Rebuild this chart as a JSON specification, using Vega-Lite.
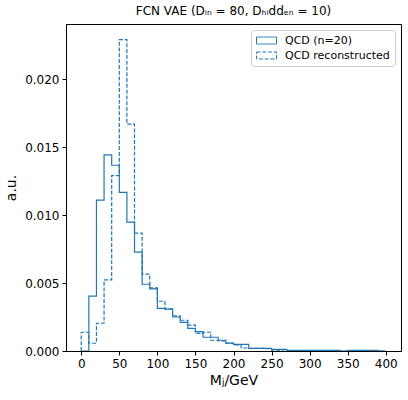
{
  "$schema": "https://vega.github.io/schema/vega-lite/v6.json",
  "autosize": "none",
  "width": 335,
  "height": 327,
  "padding": {"left": 66, "top": 24, "right": 7, "bottom": 49},
  "config": {
    "font": "DejaVu Sans",
    "view": {"stroke": "black", "strokeWidth": 1},
    "axis": {"grid": false, "domainColor": "black", "tickColor": "black", "labelColor": "black", "titleColor": "black", "labelFont": "DejaVu Sans", "titleFont": "DejaVu Sans", "labelFontSize": 12, "titleFontSize": 14, "titleFontWeight": "normal", "tickSize": 4, "labelPadding": 3}
  },
  "title": {"text": "FCN VAE (Dᵢₙ = 80, Dₕᵢddₑₙ = 10)", "fontSize": 12, "fontWeight": "normal", "font": "DejaVu Sans", "color": "black", "offset": 6},
  "data": {"values": [
    {"s": "QCD (n=20)", "x": 0, "y": 0},
    {"s": "QCD (n=20)", "x": 10, "y": 0.00403},
    {"s": "QCD (n=20)", "x": 20, "y": 0.0111},
    {"s": "QCD (n=20)", "x": 30, "y": 0.01442},
    {"s": "QCD (n=20)", "x": 40, "y": 0.01366},
    {"s": "QCD (n=20)", "x": 50, "y": 0.01167},
    {"s": "QCD (n=20)", "x": 60, "y": 0.00948},
    {"s": "QCD (n=20)", "x": 70, "y": 0.00727},
    {"s": "QCD (n=20)", "x": 80, "y": 0.00491},
    {"s": "QCD (n=20)", "x": 90, "y": 0.00457},
    {"s": "QCD (n=20)", "x": 100, "y": 0.00313},
    {"s": "QCD (n=20)", "x": 110, "y": 0.00308},
    {"s": "QCD (n=20)", "x": 120, "y": 0.0025},
    {"s": "QCD (n=20)", "x": 130, "y": 0.00211},
    {"s": "QCD (n=20)", "x": 140, "y": 0.00167},
    {"s": "QCD (n=20)", "x": 150, "y": 0.00142},
    {"s": "QCD (n=20)", "x": 160, "y": 0.00101},
    {"s": "QCD (n=20)", "x": 170, "y": 0.00101},
    {"s": "QCD (n=20)", "x": 180, "y": 0.00079},
    {"s": "QCD (n=20)", "x": 190, "y": 0.00058},
    {"s": "QCD (n=20)", "x": 200, "y": 0.00049},
    {"s": "QCD (n=20)", "x": 210, "y": 0.00049},
    {"s": "QCD (n=20)", "x": 220, "y": 0.0002},
    {"s": "QCD (n=20)", "x": 230, "y": 0.0002},
    {"s": "QCD (n=20)", "x": 240, "y": 0.0002},
    {"s": "QCD (n=20)", "x": 250, "y": 0.000125},
    {"s": "QCD (n=20)", "x": 260, "y": 0.000125},
    {"s": "QCD (n=20)", "x": 270, "y": 0.00005},
    {"s": "QCD (n=20)", "x": 280, "y": 0.00005},
    {"s": "QCD (n=20)", "x": 290, "y": 0.00005},
    {"s": "QCD (n=20)", "x": 300, "y": 0.00005},
    {"s": "QCD (n=20)", "x": 310, "y": 0.00005},
    {"s": "QCD (n=20)", "x": 320, "y": 0.00005},
    {"s": "QCD (n=20)", "x": 330, "y": 0.00005},
    {"s": "QCD (n=20)", "x": 340, "y": 0},
    {"s": "QCD (n=20)", "x": 350, "y": 0.00005},
    {"s": "QCD (n=20)", "x": 360, "y": 0.00005},
    {"s": "QCD (n=20)", "x": 370, "y": 0.00005},
    {"s": "QCD (n=20)", "x": 380, "y": 0.00005},
    {"s": "QCD (n=20)", "x": 390, "y": 0},
    {"s": "QCD (n=20)", "x": 400, "y": 0},
    {"s": "QCD reconstructed", "x": 0, "y": 0},
    {"s": "QCD reconstructed", "x": 0, "y": 0.00138},
    {"s": "QCD reconstructed", "x": 10, "y": 0.00057},
    {"s": "QCD reconstructed", "x": 20, "y": 0.00204},
    {"s": "QCD reconstructed", "x": 30, "y": 0.00523},
    {"s": "QCD reconstructed", "x": 40, "y": 0.0129},
    {"s": "QCD reconstructed", "x": 50, "y": 0.0229},
    {"s": "QCD reconstructed", "x": 60, "y": 0.01668},
    {"s": "QCD reconstructed", "x": 70, "y": 0.00867},
    {"s": "QCD reconstructed", "x": 80, "y": 0.00565},
    {"s": "QCD reconstructed", "x": 90, "y": 0.00464},
    {"s": "QCD reconstructed", "x": 100, "y": 0.00366},
    {"s": "QCD reconstructed", "x": 110, "y": 0.0031},
    {"s": "QCD reconstructed", "x": 120, "y": 0.00258},
    {"s": "QCD reconstructed", "x": 130, "y": 0.00226},
    {"s": "QCD reconstructed", "x": 140, "y": 0.00191},
    {"s": "QCD reconstructed", "x": 150, "y": 0.0013},
    {"s": "QCD reconstructed", "x": 160, "y": 0.00138},
    {"s": "QCD reconstructed", "x": 170, "y": 0.00079},
    {"s": "QCD reconstructed", "x": 180, "y": 0.00074},
    {"s": "QCD reconstructed", "x": 190, "y": 0.00057},
    {"s": "QCD reconstructed", "x": 200, "y": 0.00044},
    {"s": "QCD reconstructed", "x": 210, "y": 0.00022},
    {"s": "QCD reconstructed", "x": 220, "y": 0.0002},
    {"s": "QCD reconstructed", "x": 230, "y": 0.0002},
    {"s": "QCD reconstructed", "x": 240, "y": 0.00017},
    {"s": "QCD reconstructed", "x": 250, "y": 0.00007},
    {"s": "QCD reconstructed", "x": 260, "y": 0},
    {"s": "QCD reconstructed", "x": 400, "y": 0}
  ]},
  "mark": {"type": "line", "interpolate": "step-after", "color": "#1f77b4", "strokeWidth": 1.2, "clip": true},
  "encoding": {
    "x": {"field": "x", "type": "quantitative", "scale": {"domain": [-20, 420], "nice": false, "zero": false},
      "axis": {"values": [0, 50, 100, 150, 200, 250, 300, 350, 400], "title": "Mⱼ/GeV", "titlePadding": 4}},
    "y": {"field": "y", "type": "quantitative", "scale": {"domain": [0, 0.024045], "nice": false},
      "axis": {"values": [0, 0.005, 0.01, 0.015, 0.02], "format": ".3f", "title": "a.u.", "titlePadding": 6}},
    "strokeDash": {"field": "s", "type": "nominal",
      "scale": {"domain": ["QCD (n=20)", "QCD reconstructed"], "range": [[1, 0], [4, 1.8]]},
      "legend": {"title": null, "orient": "top-right", "offset": 6, "fillColor": "white", "strokeColor": "#cccccc", "cornerRadius": 3, "padding": 5,
        "symbolType": "M-1,-0.7L3,-0.7L3,0.7L-1,0.7Z", "symbolSize": 100, "symbolStrokeColor": "#1f77b4", "symbolFillColor": "transparent", "symbolStrokeWidth": 1,
        "labelFontSize": 11, "labelFont": "DejaVu Sans", "labelColor": "black", "rowPadding": 3, "labelOffset": 18}}
  }
}
